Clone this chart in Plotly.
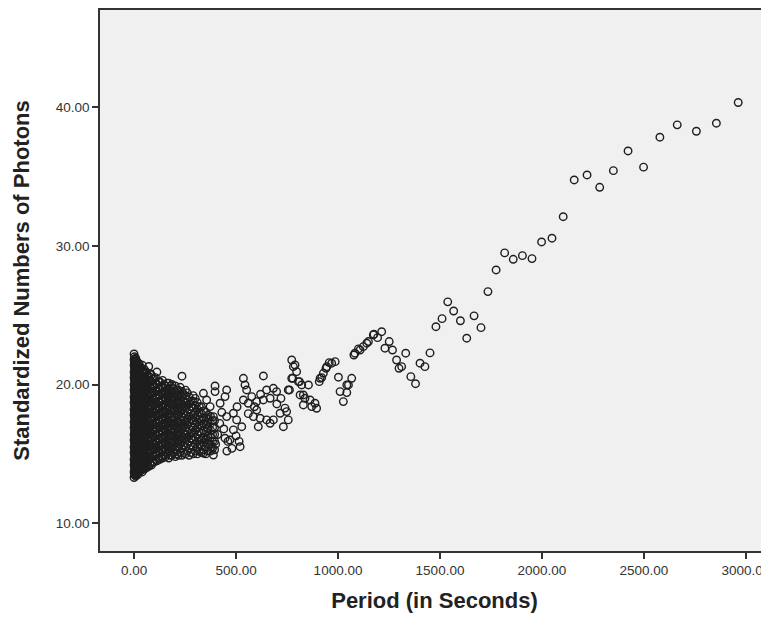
import plotly.graph_objects as go

# Dense cluster near short periods: column period and the photon values read in that column
dense_period = [0, 4, 8, 13, 18, 25, 32, 40, 50, 60, 72, 85, 98, 112, 126, 140, 155, 170,
                186, 202, 218, 235, 252, 270, 290, 310, 330, 352, 375, 395]
dense_photons = [
    [13.3, 13.7, 14.2, 14.6, 15.1, 15.5, 16.0, 16.4, 16.9, 17.3, 17.8, 18.2, 18.7, 19.1, 19.6, 20.0, 20.5, 20.9, 21.4, 21.8, 22.2],
    [13.5, 13.9, 14.4, 14.9, 15.3, 15.8, 16.2, 16.7, 17.1, 17.6, 18.0, 18.5, 18.9, 19.4, 19.8, 20.3, 20.7, 21.2, 21.6],
    [13.4, 13.8, 14.3, 14.7, 15.2, 15.6, 16.1, 16.5, 17.0, 17.4, 17.9, 18.3, 18.8, 19.2, 19.7, 20.1, 20.6, 21.0, 21.5, 21.9],
    [13.6, 14.0, 14.5, 15.0, 15.4, 15.9, 16.3, 16.8, 17.2, 17.7, 18.1, 18.6, 19.0, 19.5, 19.9, 20.4, 20.8, 21.3, 21.7],
    [13.5, 14.1, 14.6, 15.0, 15.5, 16.0, 16.4, 16.9, 17.3, 17.8, 18.2, 18.7, 19.1, 19.6, 20.1, 20.5, 21.0, 21.4],
    [13.7, 14.2, 14.6, 15.1, 15.6, 16.0, 16.5, 16.9, 17.4, 17.8, 18.3, 18.8, 19.2, 19.7, 20.1, 20.6, 21.1, 21.5],
    [13.8, 14.3, 14.8, 15.2, 15.7, 16.2, 16.6, 17.1, 17.5, 18.0, 18.4, 18.9, 19.3, 19.8, 20.3, 20.7, 21.2],
    [13.7, 14.1, 14.5, 15.0, 15.4, 15.9, 16.3, 16.8, 17.2, 17.7, 18.1, 18.6, 19.0, 19.5, 20.0, 20.4, 20.9, 21.4],
    [13.9, 14.4, 14.8, 15.3, 15.7, 16.2, 16.6, 17.1, 17.6, 18.0, 18.5, 18.9, 19.4, 19.8, 20.3, 20.8, 21.1],
    [14.0, 14.5, 14.9, 15.4, 15.8, 16.3, 16.8, 17.2, 17.7, 18.1, 18.6, 19.0, 19.5, 20.0, 20.4, 20.9],
    [14.1, 14.6, 15.1, 15.5, 16.0, 16.4, 16.9, 17.3, 17.8, 18.3, 18.7, 19.2, 19.6, 20.1, 20.6, 21.3],
    [14.2, 14.7, 15.2, 15.6, 16.1, 16.5, 17.0, 17.5, 17.9, 18.4, 18.8, 19.3, 19.7, 20.2, 20.7],
    [14.4, 14.8, 15.3, 15.7, 16.2, 16.7, 17.1, 17.6, 18.0, 18.5, 18.9, 19.4, 19.9, 20.4],
    [14.5, 15.0, 15.4, 15.9, 16.3, 16.8, 17.2, 17.7, 18.2, 18.6, 19.1, 19.5, 20.0, 20.9],
    [14.6, 15.1, 15.5, 16.0, 16.5, 16.9, 17.4, 17.8, 18.3, 18.7, 19.2, 19.7, 20.2],
    [14.7, 15.2, 15.7, 16.1, 16.6, 17.0, 17.5, 17.9, 18.4, 18.9, 19.3, 19.8, 20.3],
    [14.8, 15.3, 15.7, 16.2, 16.7, 17.1, 17.6, 18.0, 18.5, 19.0, 19.4, 19.9],
    [14.7, 15.2, 15.6, 16.1, 16.5, 17.0, 17.4, 17.9, 18.4, 18.8, 19.3, 19.7, 20.1],
    [14.9, 15.4, 15.8, 16.3, 16.8, 17.2, 17.7, 18.1, 18.6, 19.0, 19.5, 20.0],
    [14.8, 15.3, 15.8, 16.2, 16.7, 17.1, 17.6, 18.1, 18.5, 19.0, 19.4, 19.9],
    [14.9, 15.5, 15.9, 16.4, 16.8, 17.3, 17.8, 18.2, 18.7, 19.1, 19.6],
    [14.9, 15.4, 15.9, 16.3, 16.8, 17.2, 17.7, 18.2, 18.6, 19.1, 19.5, 20.6],
    [15.0, 15.5, 16.0, 16.4, 16.9, 17.3, 17.8, 18.3, 18.7, 19.2, 19.6],
    [14.9, 15.4, 15.9, 16.3, 16.8, 17.3, 17.7, 18.2, 18.6, 19.1],
    [15.0, 15.5, 16.0, 16.5, 16.9, 17.4, 17.8, 18.3, 18.8, 19.2],
    [15.0, 15.5, 15.9, 16.4, 16.9, 17.3, 17.8, 18.2, 18.7],
    [15.1, 15.6, 16.0, 16.5, 17.0, 17.4, 17.9, 18.4],
    [15.0, 15.5, 16.1, 16.6, 17.1, 17.6, 18.0],
    [15.2, 15.7, 16.2, 16.7, 17.2, 17.7],
    [15.3, 15.9, 16.4, 16.9, 17.4],
]

# Second, staggered set of columns inside the same dense cluster
dense_period_b = [2, 6, 10, 15, 21, 28, 36, 45, 55, 66, 78, 91, 105, 119, 133, 147, 162, 178,
                  194, 210, 226, 243, 261, 280, 300, 320, 341, 363, 385]
dense_photons_b = [
    [13.5, 14.0, 14.4, 14.9, 15.3, 15.8, 16.2, 16.7, 17.1, 17.6, 18.0, 18.5, 18.9, 19.4, 19.8, 20.3, 20.7, 21.2, 21.6, 22.0],
    [13.6, 14.1, 14.5, 15.0, 15.4, 15.9, 16.4, 16.8, 17.3, 17.7, 18.2, 18.6, 19.1, 19.5, 20.0, 20.4, 20.9, 21.3, 21.8],
    [13.5, 13.9, 14.4, 14.8, 15.3, 15.7, 16.2, 16.6, 17.1, 17.5, 18.0, 18.4, 18.9, 19.3, 19.8, 20.2, 20.7, 21.1, 21.6],
    [13.8, 14.2, 14.7, 15.2, 15.6, 16.1, 16.5, 17.0, 17.5, 17.9, 18.4, 18.8, 19.3, 19.7, 20.2, 20.6, 21.1, 21.5],
    [13.7, 14.3, 14.8, 15.2, 15.7, 16.2, 16.6, 17.1, 17.5, 18.0, 18.4, 18.9, 19.3, 19.8, 20.3, 20.7, 21.2],
    [13.9, 14.4, 14.8, 15.3, 15.8, 16.2, 16.7, 17.1, 17.6, 18.0, 18.5, 19.0, 19.4, 19.9, 20.3, 20.8, 21.3],
    [13.9, 14.5, 15.0, 15.4, 15.9, 16.4, 16.8, 17.3, 17.7, 18.2, 18.6, 19.1, 19.5, 20.0, 20.5, 20.9],
    [13.9, 14.3, 14.7, 15.2, 15.6, 16.1, 16.5, 17.0, 17.4, 17.9, 18.3, 18.8, 19.2, 19.7, 20.2, 20.6, 21.0],
    [14.1, 14.6, 15.0, 15.5, 15.9, 16.4, 16.8, 17.3, 17.8, 18.2, 18.7, 19.1, 19.6, 20.0, 20.5, 20.9],
    [14.2, 14.7, 15.1, 15.6, 16.0, 16.5, 17.0, 17.4, 17.9, 18.3, 18.8, 19.2, 19.7, 20.2, 20.6],
    [14.3, 14.8, 15.3, 15.7, 16.2, 16.6, 17.1, 17.5, 18.0, 18.5, 18.9, 19.4, 19.8, 20.3, 20.8],
    [14.4, 14.9, 15.4, 15.8, 16.3, 16.7, 17.2, 17.7, 18.1, 18.6, 19.0, 19.5, 19.9, 20.4],
    [14.6, 15.0, 15.5, 15.9, 16.4, 16.9, 17.3, 17.8, 18.2, 18.7, 19.1, 19.6, 20.1, 20.5],
    [14.7, 15.2, 15.6, 16.1, 16.5, 17.0, 17.4, 17.9, 18.4, 18.8, 19.3, 19.7, 20.2],
    [14.8, 15.3, 15.7, 16.2, 16.7, 17.1, 17.6, 18.0, 18.5, 18.9, 19.4, 19.9],
    [14.9, 15.4, 15.9, 16.3, 16.8, 17.2, 17.7, 18.1, 18.6, 19.1, 19.5, 20.0],
    [15.0, 15.5, 15.9, 16.4, 16.9, 17.3, 17.8, 18.2, 18.7, 19.2, 19.6, 20.1],
    [14.9, 15.4, 15.8, 16.3, 16.7, 17.2, 17.6, 18.1, 18.6, 19.0, 19.5, 19.9],
    [15.1, 15.6, 16.0, 16.5, 17.0, 17.4, 17.9, 18.3, 18.8, 19.2, 19.7],
    [15.0, 15.5, 16.0, 16.4, 16.9, 17.3, 17.8, 18.3, 18.7, 19.2, 19.6],
    [15.1, 15.7, 16.1, 16.6, 17.0, 17.5, 18.0, 18.4, 18.9, 19.3, 19.8],
    [15.1, 15.6, 16.1, 16.5, 17.0, 17.4, 17.9, 18.4, 18.8, 19.3],
    [15.2, 15.7, 16.2, 16.6, 17.1, 17.5, 18.0, 18.5, 18.9, 19.4],
    [15.1, 15.6, 16.1, 16.5, 17.0, 17.5, 17.9, 18.4, 18.8],
    [15.2, 15.7, 16.2, 16.7, 17.1, 17.6, 18.0, 18.5, 19.0],
    [15.2, 15.7, 16.1, 16.6, 17.1, 17.5, 18.0, 18.4],
    [15.3, 15.8, 16.2, 16.7, 17.2, 17.6, 18.1],
    [15.2, 15.7, 16.3, 16.8, 17.3, 17.8],
    [15.4, 15.9, 16.4, 16.9, 17.4],
]

# Scattered observations at longer periods
sparse_period = [340, 356, 397, 397, 454, 446, 422, 373, 389, 454, 487, 503, 528, 487, 446, 470, 520, 381, 389, 340,
                 420, 440, 460, 500, 480, 410, 360, 365, 430, 505, 515, 455, 400, 350,
                 536, 544, 552, 577, 536, 560, 601, 634, 650, 683, 699, 634, 667, 601, 585, 618, 650, 683, 716, 748,
                 756, 732, 667, 609, 560, 590, 620, 700, 720, 740,
                 773, 781, 797, 773, 811, 756, 822, 855, 830, 863, 887, 895, 789, 778, 806, 762, 814, 838, 871, 830,
                 912, 928, 945, 969, 986, 1002, 1010, 1043, 1026, 1067, 1051, 1043, 941, 920, 908, 957,
                 1078, 1083, 1100, 1108, 1124, 1141, 1149, 1173, 1176, 1194, 1214, 1230, 1251, 1267, 1287, 1299,
                 1312, 1332, 1357, 1380, 1402, 1426, 1451, 1480, 1510, 1538, 1567, 1600, 1631, 1667, 1701,
                 1735, 1775, 1817, 1859, 1904, 1951, 1998, 2049, 2104, 2158, 2221, 2283, 2350, 2422, 2498,
                 2578, 2663, 2757, 2855, 2962]
sparse_photons = [19.37, 18.89, 19.90, 19.49, 19.61, 19.13, 18.65, 18.41, 17.69, 17.69, 17.93, 17.45, 16.96, 16.73, 16.13, 16.00, 15.52, 15.52, 14.92, 15.05,
                  17.2, 16.8, 15.9, 16.3, 15.4, 16.4, 16.9, 17.5, 18.0, 18.4, 15.9, 15.2, 15.7, 16.0,
                  20.45, 19.97, 19.61, 19.13, 18.89, 18.65, 18.77, 20.62, 19.61, 19.73, 19.49, 18.89, 19.01, 18.17, 17.69, 17.57, 17.45, 17.45, 17.93, 18.05,
                  17.45, 16.96, 17.21, 16.96, 17.9, 18.4, 19.3, 18.6, 19.0, 18.3,
                  21.77, 21.29, 20.93, 20.45, 20.21, 19.61, 19.97, 19.97, 19.25, 18.89, 18.65, 18.29, 21.41, 20.45, 20.21, 19.61, 19.25, 19.01, 18.41, 18.53,
                  20.45, 20.81, 21.29, 21.54, 21.65, 20.53, 19.49, 19.97, 18.77, 20.45, 19.97, 19.42, 21.17, 20.50, 20.21, 21.58,
                  22.13, 22.26, 22.57, 22.49, 22.73, 22.98, 23.10, 23.58, 23.63, 23.38, 23.81, 22.62, 23.10, 22.49, 21.77, 21.17,
                  21.29, 22.26, 20.57, 20.06, 21.54, 21.29, 22.28, 24.17, 24.75, 25.96, 25.30, 24.60, 23.34, 24.95, 24.10,
                  26.70, 28.26, 29.49, 29.03, 29.29, 29.08, 30.28, 30.55, 32.10, 34.75, 35.11, 34.22, 35.42, 36.84, 35.67,
                  37.83, 38.72, 38.26, 38.84, 40.33]

x_ticks = [0, 500, 1000, 1500, 2000, 2500, 3000]
x_tick_labels = ["0.00", "500.00", "1000.00", "1500.00", "2000.00", "2500.00", "3000.00"]
y_ticks = [10, 20, 30, 40]
y_tick_labels = ["10.00", "20.00", "30.00", "40.00"]

xs, ys = [], []
for periods, photons in ((dense_period, dense_photons), (dense_period_b, dense_photons_b)):
    for p, col in zip(periods, photons):
        xs += [p] * len(col)
        ys += col
xs += sparse_period
ys += sparse_photons

fig = go.Figure()
fig.add_trace(go.Scatter(
    x=xs, y=ys, mode="markers",
    marker=dict(symbol="circle-open", size=7.5, color="#1e1e1e", line=dict(width=1.4, color="#1e1e1e")),
    showlegend=False, hoverinfo="x+y",
))

axis_font = dict(family="Liberation Sans, Arial, sans-serif", size=13.5, color="#333333")
title_font = dict(family="Liberation Sans, Arial, sans-serif", size=22, color="#222222")

# The page body adds an 8px offset, so the figure is sized to end exactly at the window edge
fig.update_layout(
    width=761, height=611,
    margin=dict(l=92, r=0, t=2, b=68, autoexpand=False),
    paper_bgcolor="white",
    plot_bgcolor="#f0f0f0",
    xaxis=dict(
        range=[-167, 3113], tickmode="array", tickvals=x_ticks, ticktext=x_tick_labels,
        showgrid=False, zeroline=False, showline=True, linecolor="#333333", linewidth=1.5,
        mirror=True, ticks="outside", ticklen=6, tickwidth=1.5, tickcolor="#333333",
        tickfont=axis_font, automargin=False, ticklabeloverflow="allow",
        title=dict(text="<b>Period (in Seconds)</b>", font=title_font, standoff=16),
    ),
    yaxis=dict(
        range=[8.0, 47.0], tickmode="array", tickvals=y_ticks, ticktext=y_tick_labels,
        showgrid=False, zeroline=False, showline=True, linecolor="#333333", linewidth=1.5,
        ticks="outside", ticklen=6, tickwidth=1.5, tickcolor="#333333",
        tickfont=axis_font, automargin=False,
        title=dict(text="<b>Standardized Numbers of Photons</b>", font=title_font, standoff=20),
    ),
)

fig.write_html("out.html")
